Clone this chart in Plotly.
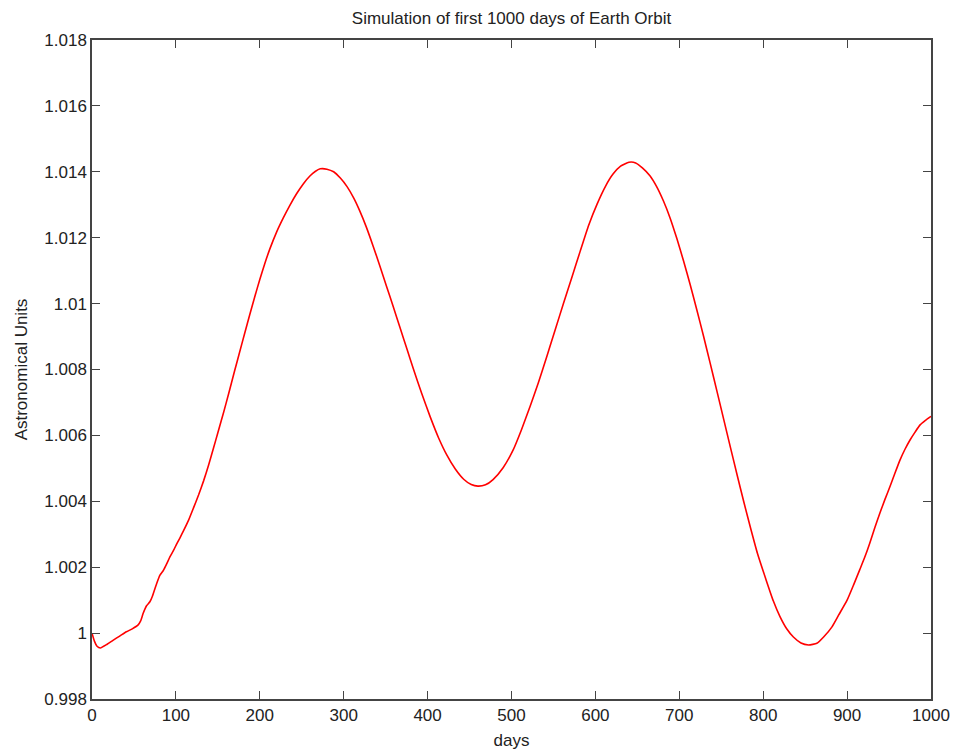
import plotly.graph_objects as go

days = [0, 3, 6, 10, 18, 25, 33, 41, 48, 55, 58, 61, 65, 69, 72, 77, 81, 85, 89, 93, 97, 101, 105, 109,
        115, 121, 127, 133, 139, 145, 150, 157, 163, 170, 176, 182, 188, 194, 200, 206, 212, 220, 228,
        236, 244, 252, 260, 266, 272, 280, 288, 296, 304, 312, 319, 327, 335, 343, 351, 359, 367, 375,
        383, 393, 403, 413, 423, 433, 443, 452, 460, 469, 478, 490, 502, 512, 522, 532, 542, 552, 562,
        572, 582, 592, 602, 612, 621, 630, 640, 648, 656, 665, 673, 681, 689, 697, 705, 713, 721, 729,
        737, 745, 753, 761, 769, 777, 785, 793, 803, 812, 820, 828, 836, 845, 854, 864, 872, 882, 890,
        900, 908, 915, 921, 927, 933, 939, 945, 951, 957, 963, 969, 975, 981, 987, 993, 1000]
au = [1.0000, 0.99975, 0.99960, 0.99955, 0.99966, 0.99978, 0.99991, 1.00004, 1.00013, 1.00025,
      1.00037, 1.0006, 1.00083, 1.00095, 1.00112, 1.00150, 1.00176, 1.00190, 1.0021, 1.00232, 1.0025,
      1.00271, 1.0029, 1.00310, 1.00342, 1.0038, 1.00419, 1.00462, 1.0051, 1.00563, 1.00608, 1.00671,
      1.00728, 1.00796, 1.00853, 1.00910, 1.00966, 1.01021, 1.01073, 1.01122, 1.01166, 1.01217, 1.01260,
      1.01299, 1.01334, 1.01364, 1.01388, 1.01401, 1.01409, 1.01408, 1.01400, 1.01381, 1.01355,
      1.0132, 1.01282, 1.01232, 1.01175, 1.01115, 1.01053, 1.00991, 1.00928, 1.00865, 1.00802, 1.00727,
      1.00657, 1.00593, 1.00540, 1.00498, 1.00467, 1.00451, 1.00446, 1.00450, 1.00466, 1.00502, 1.00556,
      1.00618, 1.00687, 1.0076, 1.00839, 1.0092, 1.01001, 1.0108, 1.01160, 1.01238, 1.01302, 1.01356,
      1.01393, 1.01417, 1.01429, 1.01427, 1.01412, 1.01388, 1.01355, 1.01312, 1.0126, 1.01198, 1.0113,
      1.01057, 1.0098, 1.0090, 1.00817, 1.00733, 1.00648, 1.00563, 1.00479, 1.00397, 1.00318, 1.00243,
      1.00165, 1.00098, 1.0005, 1.00013, 0.99988, 0.99970, 0.99964, 0.99969, 0.99988, 1.00019,
      1.00055, 1.0010, 1.00148, 1.00192, 1.0023, 1.00273, 1.0032, 1.00364, 1.00405, 1.00444, 1.00485,
      1.00525, 1.00558, 1.00586, 1.0061, 1.00632, 1.00645, 1.00658]

x_ticks = [0, 100, 200, 300, 400, 500, 600, 700, 800, 900, 1000]
x_ticktext = ["0", "100", "200", "300", "400", "500", "600", "700", "800", "900", "1000"]
y_ticks = [0.998, 1.000, 1.002, 1.004, 1.006, 1.008, 1.010, 1.012, 1.014, 1.016, 1.018]
y_ticktext = ["0.998", "1", "1.002", "1.004", "1.006", "1.008", "1.01", "1.012", "1.014", "1.016", "1.018"]

FONT = "Liberation Sans, Arial, Helvetica, sans-serif"

fig = go.Figure()
fig.add_trace(go.Scatter(x=days, y=au, mode="lines",
                         line=dict(color="#ff0000", width=1.6, shape="spline", smoothing=0.5),
                         showlegend=False, hoverinfo="x+y"))

axis_common = dict(showgrid=False, zeroline=False, showline=True, linecolor="#444444", linewidth=1.5,
                   mirror="allticks", ticks="inside", ticklen=8, tickwidth=1, tickcolor="#444444",
                   automargin=False,
                   tickfont=dict(family=FONT, size=17, color="#222222"))

fig.update_layout(
    width=956, height=750,
    margin=dict(l=92, r=25, t=40, b=51),
    paper_bgcolor="white", plot_bgcolor="white",
    font=dict(family=FONT, size=17, color="#222222"),
    title=dict(text="Simulation of first 1000 days of Earth Orbit", x=0.5, xref="paper",
               y=0.976, yref="container", yanchor="middle",
               font=dict(family=FONT, size=17, color="#222222")),
    xaxis=dict(range=[0, 1000], tickmode="array", tickvals=x_ticks, ticktext=x_ticktext,
               title=dict(text="days", font=dict(family=FONT, size=17, color="#222222"), standoff=12),
               **axis_common),
    yaxis=dict(range=[0.998, 1.018], tickmode="array", tickvals=y_ticks, ticktext=y_ticktext,
               title=dict(text="Astronomical Units", font=dict(family=FONT, size=17, color="#222222"), standoff=12),
               **axis_common),
)

fig.write_html("out.html")
